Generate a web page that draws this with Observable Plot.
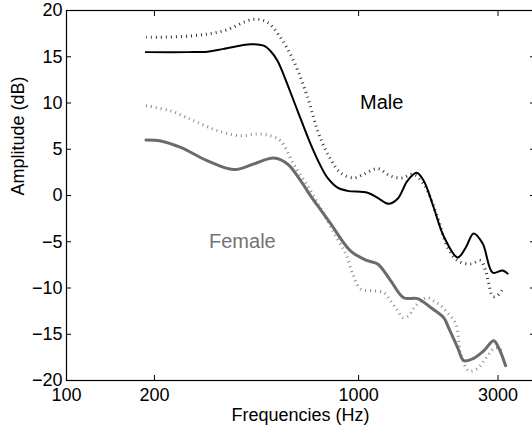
<!DOCTYPE html>
<html><head><meta charset="utf-8">
<script src="https://cdn.jsdelivr.net/npm/d3@7"></script>
<script src="https://cdn.jsdelivr.net/npm/@observablehq/plot@0.6"></script>
<style>html,body{margin:0;padding:0;background:#fff;overflow:hidden}</style>
</head><body><div id="chart"></div>
<script>
const xTicks = [100, 200, 1000, 3000];
const yTicks = [-20, -15, -10, -5, 0, 5, 10, 15, 20];

const maleSolidFreq = [187, 260, 304, 345, 427, 473, 500, 528, 553, 618, 685, 741, 783, 847, 917, 1073, 1162, 1267, 1360, 1471, 1580, 1670, 1807, 1955, 2183, 2325, 2476, 2659, 2877, 3113, 3237];
const maleSolidDb   = [15.5, 15.5, 15.55, 15.85, 16.35, 16.2, 15.6, 14.55, 13.1, 9.15, 5.55, 3.2, 1.9, 0.85, 0.5, 0.3, -0.25, -0.9, -0.35, 1.6, 2.45, 1.6, -1.3, -4.4, -6.7, -5.65, -4.1, -5.2, -8.35, -8.1, -8.45];

const maleDotFreq = [187, 266, 345, 437, 488, 541, 599, 669, 724, 783, 868, 961, 1040, 1162, 1287, 1415, 1531, 1670, 1865, 2017, 2183, 2418, 2617, 2723, 2788, 2877, 2992, 3113];
const maleDotDb   = [17.1, 17.25, 17.8, 19.05, 18.7, 17.05, 14.55, 10.6, 7.0, 4.5, 2.45, 1.9, 2.3, 2.9, 2.1, 1.9, 2.3, 1.25, -2.4, -5.65, -7.05, -7.4, -7.05, -8.2, -9.5, -10.9, -10.8, -10.1];

const femaleSolidFreq = [187, 210, 246, 304, 373, 437, 512, 571, 633, 685, 724, 802, 939, 1073, 1162, 1287, 1426, 1592, 1764, 1955, 2033, 2183, 2290, 2476, 2680, 2899, 3015, 3186];
const femaleSolidDb   = [6.0, 5.9, 5.2, 3.75, 2.8, 3.4, 4.05, 3.4, 1.6, -0.05, -1.1, -3.05, -6.0, -7.05, -7.4, -9.2, -11.05, -11.15, -12.1, -13.2, -14.3, -16.45, -17.85, -17.6, -16.8, -15.7, -16.45, -18.4];

const femaleDotFreq = [187, 227, 272, 329, 394, 451, 500, 541, 599, 685, 759, 834, 903, 954, 1016, 1117, 1218, 1287, 1360, 1415, 1483, 1543, 1630, 1723, 1807, 1909, 2017, 2149, 2235, 2381, 2555, 2723, 2946, 3139];
const femaleDotDb   = [9.7, 9.15, 8.1, 7.0, 6.45, 6.65, 6.45, 5.9, 3.4, 0.5, -2.0, -4.35, -6.3, -8.45, -10.1, -10.3, -10.5, -11.4, -12.45, -13.2, -13.0, -12.2, -11.4, -11.05, -11.4, -11.9, -12.7, -13.85, -17.0, -18.95, -18.7, -17.6, -16.45, -17.0];

const labelNames = ["Male", "Female"];
const labelFreq = [1200, 400];
const labelDb = [10, -5];

const toRows = (f, v) => f.map((x, i) => ({freq: x, db: v[i]}));
const maleSolid = toRows(maleSolidFreq, maleSolidDb);
const maleDot = toRows(maleDotFreq, maleDotDb);
const femaleSolid = toRows(femaleSolidFreq, femaleSolidDb);
const femaleDot = toRows(femaleDotFreq, femaleDotDb);
const labels = labelNames.map((t, i) => ({text: t, freq: labelFreq[i], db: labelDb[i]}));

const chart = Plot.plot({
  width: 534, height: 425,
  marginLeft: 66, marginRight: 0, marginTop: 10, marginBottom: 45,
  style: {fontFamily: "'Liberation Sans', Arial, sans-serif", fontSize: "18px", color: "#000", background: "#fff", overflow: "visible", maxWidth: "none"},
  x: {type: "log", domain: [100, 4000]},
  y: {domain: [-20, 20]},
  marks: [
    Plot.axisX(xTicks, {anchor: "bottom", tickSize: -5, tickPadding: 13, tickFormat: d => String(d), label: null}),
    Plot.axisX(xTicks, {anchor: "top", tickSize: -5, tickFormat: () => "", label: null}),
    Plot.axisY(yTicks, {anchor: "left", tickSize: -5, tickPadding: 9, label: null}),
    Plot.axisY(yTicks, {anchor: "right", tickSize: -5, tickFormat: () => "", label: null}),
    Plot.frame({stroke: "#000", strokeWidth: 1.2}),
    Plot.line(maleDot, {x: "freq", y: "db", stroke: "#333", strokeWidth: 3, strokeDasharray: "1,4", strokeLinecap: "butt", curve: "catmull-rom"}),
    Plot.line(femaleDot, {x: "freq", y: "db", stroke: "#8c8c8c", strokeWidth: 3, strokeDasharray: "1,4", strokeLinecap: "butt", curve: "catmull-rom"}),
    Plot.line(maleSolid, {x: "freq", y: "db", stroke: "#000", strokeWidth: 2, curve: "catmull-rom"}),
    Plot.line(femaleSolid, {x: "freq", y: "db", stroke: "#6b6b6b", strokeWidth: 3, curve: "catmull-rom"}),
    Plot.text(labels.filter(d => d.text === "Male"), {x: "freq", y: "db", text: "text", fill: "#000", fontSize: 20}),
    Plot.text(labels.filter(d => d.text === "Female"), {x: "freq", y: "db", text: "text", fill: "#737373", fontSize: 20}),
    Plot.text(["Frequencies (Hz)"], {frameAnchor: "bottom", dy: 40, lineAnchor: "bottom", fontSize: 18, fill: "#000"}),
    Plot.text(["Amplitude (dB)"], {frameAnchor: "left", dx: -48, rotate: -90, fontSize: 18, fill: "#000"})
  ]
});
document.getElementById("chart").appendChild(chart);
</script>
</body></html>
